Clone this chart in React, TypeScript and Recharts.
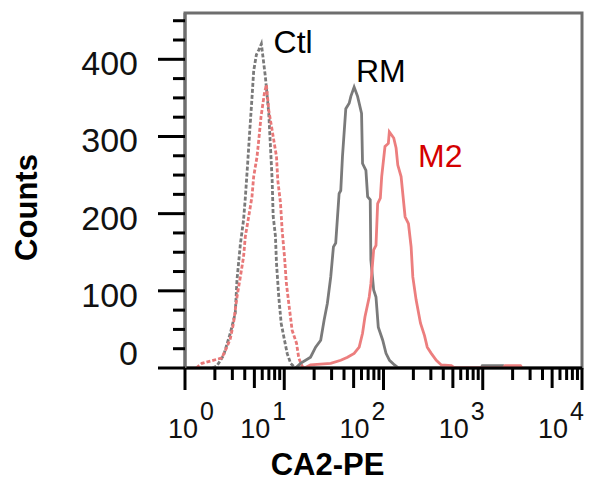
import {
  ComposedChart,
  Line,
  XAxis,
  YAxis,
  ReferenceArea,
  ReferenceDot,
  Label,
} from "recharts";

// fluorescence channel (CA2-PE) and counts
const ctlX = [1.9, 2.1, 2.44, 2.86, 3.21, 3.34, 3.61, 3.89, 4.05, 4.28, 4.48, 4.73, 4.92, 5.24, 5.53, 5.88, 6.21, 6.46, 6.98, 7.26, 7.55, 7.73, 8.15, 8.35, 8.81, 9.31, 10.06, 10.7, 11.6, 12.9];
const ctlCounts = [0, 3, 16, 45, 71, 114, 160, 192, 220, 265, 305, 350, 385, 406, 412, 420, 395, 377, 330, 287, 244, 197, 171, 136, 92, 58, 36, 19, 6, 0];

const isoX = [1.3, 1.48, 2.35, 2.64, 2.86, 3.08, 3.34, 3.61, 3.89, 4.05, 4.38, 4.73, 4.92, 5.32, 5.53, 5.84, 6.31, 6.61, 6.98, 7.55, 8.35, 8.61, 9.16, 9.53, 10.06, 10.5, 11.1, 12.0, 13.3, 14.0, 15.2, 16.0];
const isoCounts = [0, 6, 13, 27, 38, 58, 92, 118, 144, 170, 196, 222, 248, 274, 295, 326, 356, 367, 334, 308, 274, 243, 214, 178, 144, 110, 84, 49, 32, 13, 2, 0];

const rmX = [13, 14.6, 18.4, 20.7, 23.3, 25.2, 27.2, 29.4, 31.3, 33.0, 35.7, 37.1, 38.6, 41.7, 45.1, 46.9, 50.6, 54.8, 56.9, 60.1, 61.5, 66.5, 69.2, 73.5, 74.6, 79.6, 84.0, 88.6, 98.2, 106, 115, 129, 142, 960, 990, 1600, 1680];
const rmCounts = [0, 6, 14, 27, 36, 62, 84, 118, 157, 162, 226, 230, 274, 336, 343, 352, 364, 352, 343, 330, 265, 256, 222, 218, 140, 101, 92, 53, 36, 19, 10, 4, 0, 0, 3, 3, 0];

const m2X = [16, 18.4, 29.4, 37.1, 43.4, 50.6, 56.9, 61.5, 65.0, 71.8, 74.6, 79.6, 84.0, 87.3, 92.9, 95.9, 103.5, 111.9, 114.5, 126.8, 133.9, 139.3, 150.4, 165.0, 178.4, 189.8, 197.4, 213.3, 235.9, 258.9, 275.9, 302.7, 340.3, 382.2, 482.6, 520, 1600, 1680, 2400, 2500];
const m2Counts = [0, 4, 6, 10, 14, 19, 27, 45, 66, 92, 109, 153, 159, 213, 220, 248, 287, 291, 306, 298, 285, 263, 248, 196, 187, 157, 118, 88, 58, 42, 27, 19, 10, 4, 3, 0, 0, 3, 3, 0];

// axis ticks
const xTicks = [
  1, 2, 3, 4, 5, 6, 7, 8, 9,
  10, 20, 30, 40, 50, 60, 70, 80, 90,
  100, 200, 300, 400, 500, 600, 700, 800, 900,
  1000, 2000, 3000, 4000, 5000, 6000, 7000, 8000, 9000,
  10000,
];
const decades = [1, 10, 100, 1000, 10000];
const decadeExps = ["0", "1", "2", "3", "4"];
const midTicks = [5, 50, 500, 5000];
const yTicks = [0, 25, 50, 75, 100, 125, 150, 175, 200, 225, 250, 275, 300, 325, 350, 375, 400, 425, 450];
const yLabelled = [0, 100, 200, 300, 400];

const FONT = "Arial, 'Liberation Sans', sans-serif";

const pairs = (xs: number[], ys: number[]) => xs.map((x, i) => ({ x, y: ys[i] }));

function XTick(props: any) {
  const { x, y, payload } = props;
  const v = payload.value;
  const k = decades.indexOf(v);
  const len = k >= 0 ? 22 : midTicks.includes(v) ? 20 : 12;
  return (
    <g>
      <line x1={x} y1={y} x2={x} y2={y + len} stroke="#000" strokeWidth={3} />
      {k >= 0 && (
        <text x={x + (k === 0 ? 29 : 2)} y={y + 70} textAnchor="end" fontSize={27} fontFamily={FONT} fill="#111">
          10
          <tspan dx={2} dy={-18} fontSize={25}>
            {decadeExps[k]}
          </tspan>
        </text>
      )}
    </g>
  );
}

function YTick(props: any) {
  const { x, y, payload } = props;
  const v = payload.value;
  const major = yLabelled.includes(v);
  return (
    <g>
      <line x1={x - (major ? 27 : 12)} y1={y} x2={x} y2={y} stroke="#000" strokeWidth={3} />
      {major && (
        <text x={x - 47} y={y + (v === 0 ? -3 : 16)} textAnchor="end" fontSize={34} fontFamily={FONT} fill="#111">
          {v}
        </text>
      )}
    </g>
  );
}

const note = (text: string, color: string) => (p: any) => (
  <text x={p.cx} y={p.cy} fontSize={32} fontFamily={FONT} fill={color}>
    {text}
  </text>
);

export default function App() {
  return (
    <div style={{ position: "absolute", left: 0, top: 0, width: 589, height: 481, background: "#fff" }}>
      <ComposedChart width={589} height={481} margin={{ top: 13, right: 7, left: 0, bottom: 0 }}>
        <XAxis
          dataKey="x"
          type="number"
          scale="log"
          domain={[1, 10000]}
          ticks={xTicks}
          interval={0}
          allowDataOverflow
          height={113}
          tickSize={0}
          tickMargin={0}
          tickLine={false}
          tick={<XTick />}
          axisLine={{ stroke: "#000", strokeWidth: 3 }}
        >
          <Label
            content={(p: any) => {
              const vb = p.viewBox;
              return (
                <text x={vb.x + vb.width / 2 - 56} y={vb.y + 107} textAnchor="middle" fontSize={31} fontWeight="bold" fontFamily={FONT} fill="#000">
                  CA2-PE
                </text>
              );
            }}
          />
        </XAxis>
        <YAxis
          dataKey="y"
          type="number"
          domain={[0, 460]}
          ticks={yTicks}
          interval={0}
          allowDataOverflow
          width={185}
          tickSize={0}
          tickMargin={0}
          tickLine={false}
          tick={<YTick />}
          axisLine={{ stroke: "#6e6e6e", strokeWidth: 3 }}
        >
          <Label
            content={(p: any) => {
              const vb = p.viewBox;
              const cx = vb.x + 37;
              const cy = vb.y + vb.height / 2 + 17;
              return (
                <text x={cx} y={cy} transform={`rotate(-90, ${cx}, ${cy})`} textAnchor="middle" fontSize={31} fontWeight="bold" fontFamily={FONT} fill="#000">
                  Counts
                </text>
              );
            }}
          />
        </YAxis>
        <ReferenceArea x1={1} x2={10000} y1={0} y2={460} fill="none" stroke="#6e6e6e" strokeWidth={3} />
        <Line data={pairs(ctlX, ctlCounts)} dataKey="y" type="linear" stroke="#7a7a7a" strokeWidth={2.8} strokeDasharray="4 2" dot={false} isAnimationActive={false} />
        <Line data={pairs(isoX, isoCounts)} dataKey="y" type="linear" stroke="#e87878" strokeWidth={2.8} strokeDasharray="4 2" dot={false} isAnimationActive={false} />
        <Line data={pairs(rmX, rmCounts)} dataKey="y" type="linear" stroke="#7a7a7a" strokeWidth={2.8} dot={false} isAnimationActive={false} />
        <Line data={pairs(m2X, m2Counts)} dataKey="y" type="linear" stroke="#ec7e7e" strokeWidth={2.8} dot={false} isAnimationActive={false} />
        <ReferenceDot x={7.8} y={408} r={1} shape={note("Ctl", "#000")} />
        <ReferenceDot x={52.7} y={371} r={1} shape={note("RM", "#000")} />
        <ReferenceDot x={223} y={260} r={1} shape={note("M2", "#d40000")} />
      </ComposedChart>
    </div>
  );
}
